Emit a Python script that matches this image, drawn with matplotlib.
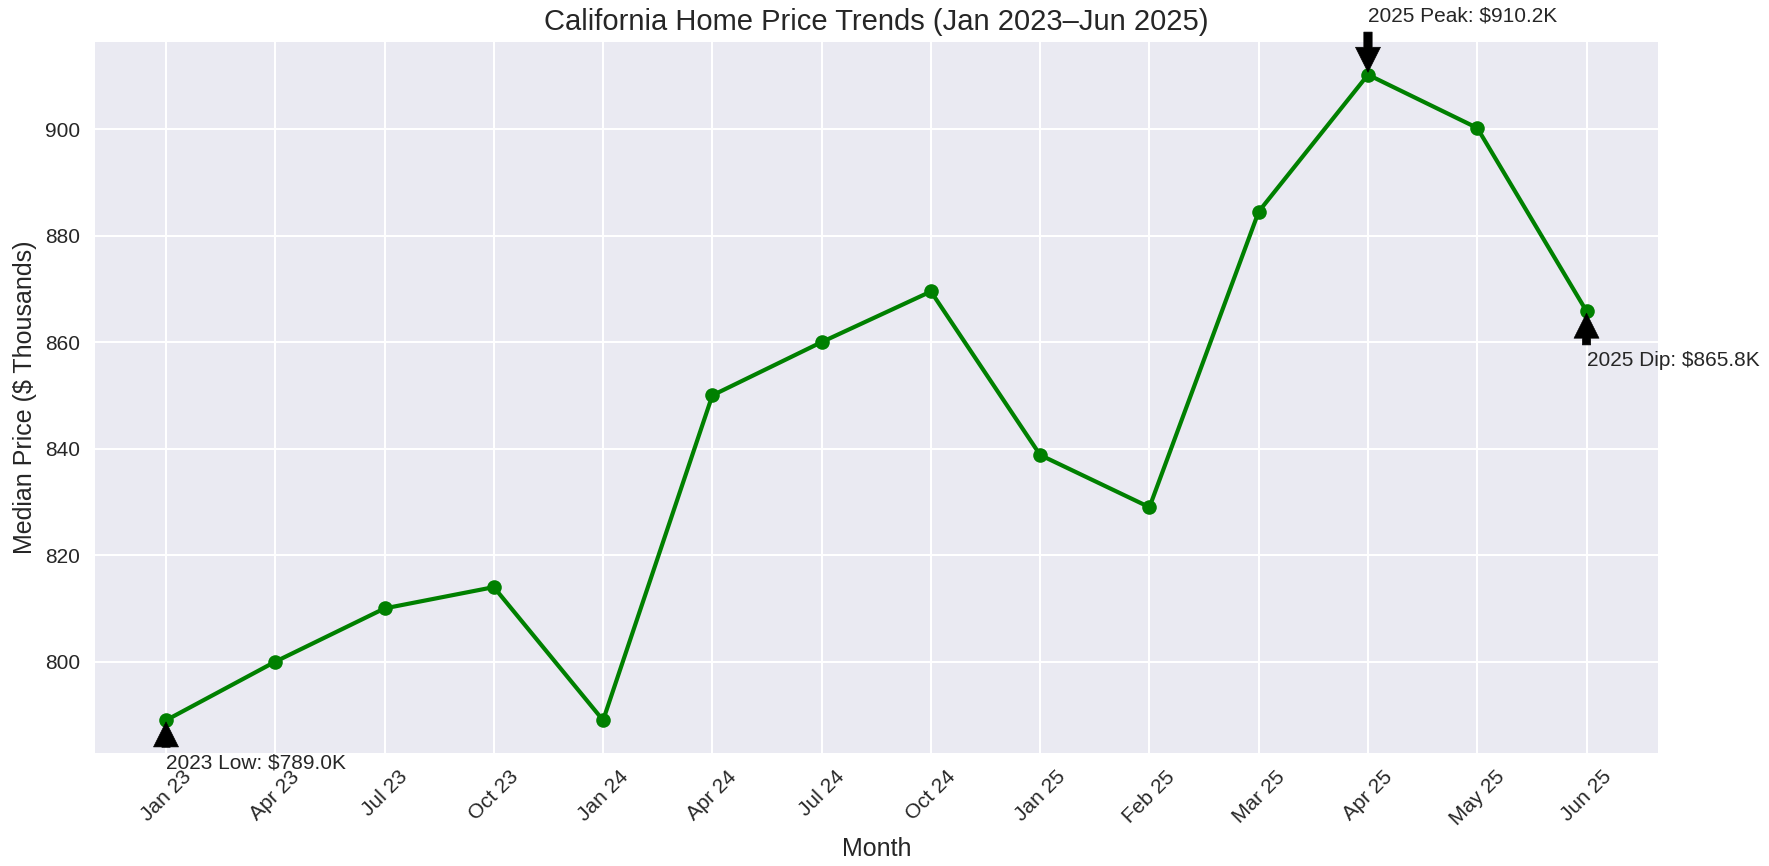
import matplotlib
matplotlib.use("Agg")
import matplotlib.pyplot as plt

# Data
months = ["Jan 23", "Apr 23", "Jul 23", "Oct 23", "Jan 24", "Apr 24", "Jul 24",
          "Oct 24", "Jan 25", "Feb 25", "Mar 25", "Apr 25", "May 25", "Jun 25"]
prices = [789.0, 800.0, 810.0, 814.0, 789.0, 850.0, 860.0,
          869.5, 838.8, 829.0, 884.5, 910.2, 900.2, 865.8]

# annotations: (month index, label, text y position in $K)
notes = [(0, "2023 Low: $789.0K", 780.0),
         (11, "2025 Peak: $910.2K", 920.2),
         (13, "2025 Dip: $865.8K", 855.5)]

plt.style.use("seaborn-v0_8")
plt.rcParams["font.sans-serif"] = ["Liberation Sans", "DejaVu Sans"]

fig, ax = plt.subplots(figsize=(1769 / 150, 866 / 150), dpi=150)
x = list(range(len(months)))
ax.plot(x, prices, marker="o", color="green", linewidth=2, markersize=7)

for i, label, ty in notes:
    ax.annotate(label, xy=(i, prices[i]), xytext=(i, ty),
                arrowprops=dict(facecolor="black", shrink=0.05))

ax.set_xticks(x)
ax.set_xticklabels(months, rotation=45)
ax.set_title("California Home Price Trends (Jan 2023\u2013Jun 2025)", fontsize=14)
ax.set_xlabel("Month", fontsize=12)
ax.set_ylabel("Median Price ($ Thousands)", fontsize=12)

plt.subplots_adjust(left=0.0537, right=0.937, top=0.951, bottom=0.131)
plt.savefig("out.png", dpi=150)
